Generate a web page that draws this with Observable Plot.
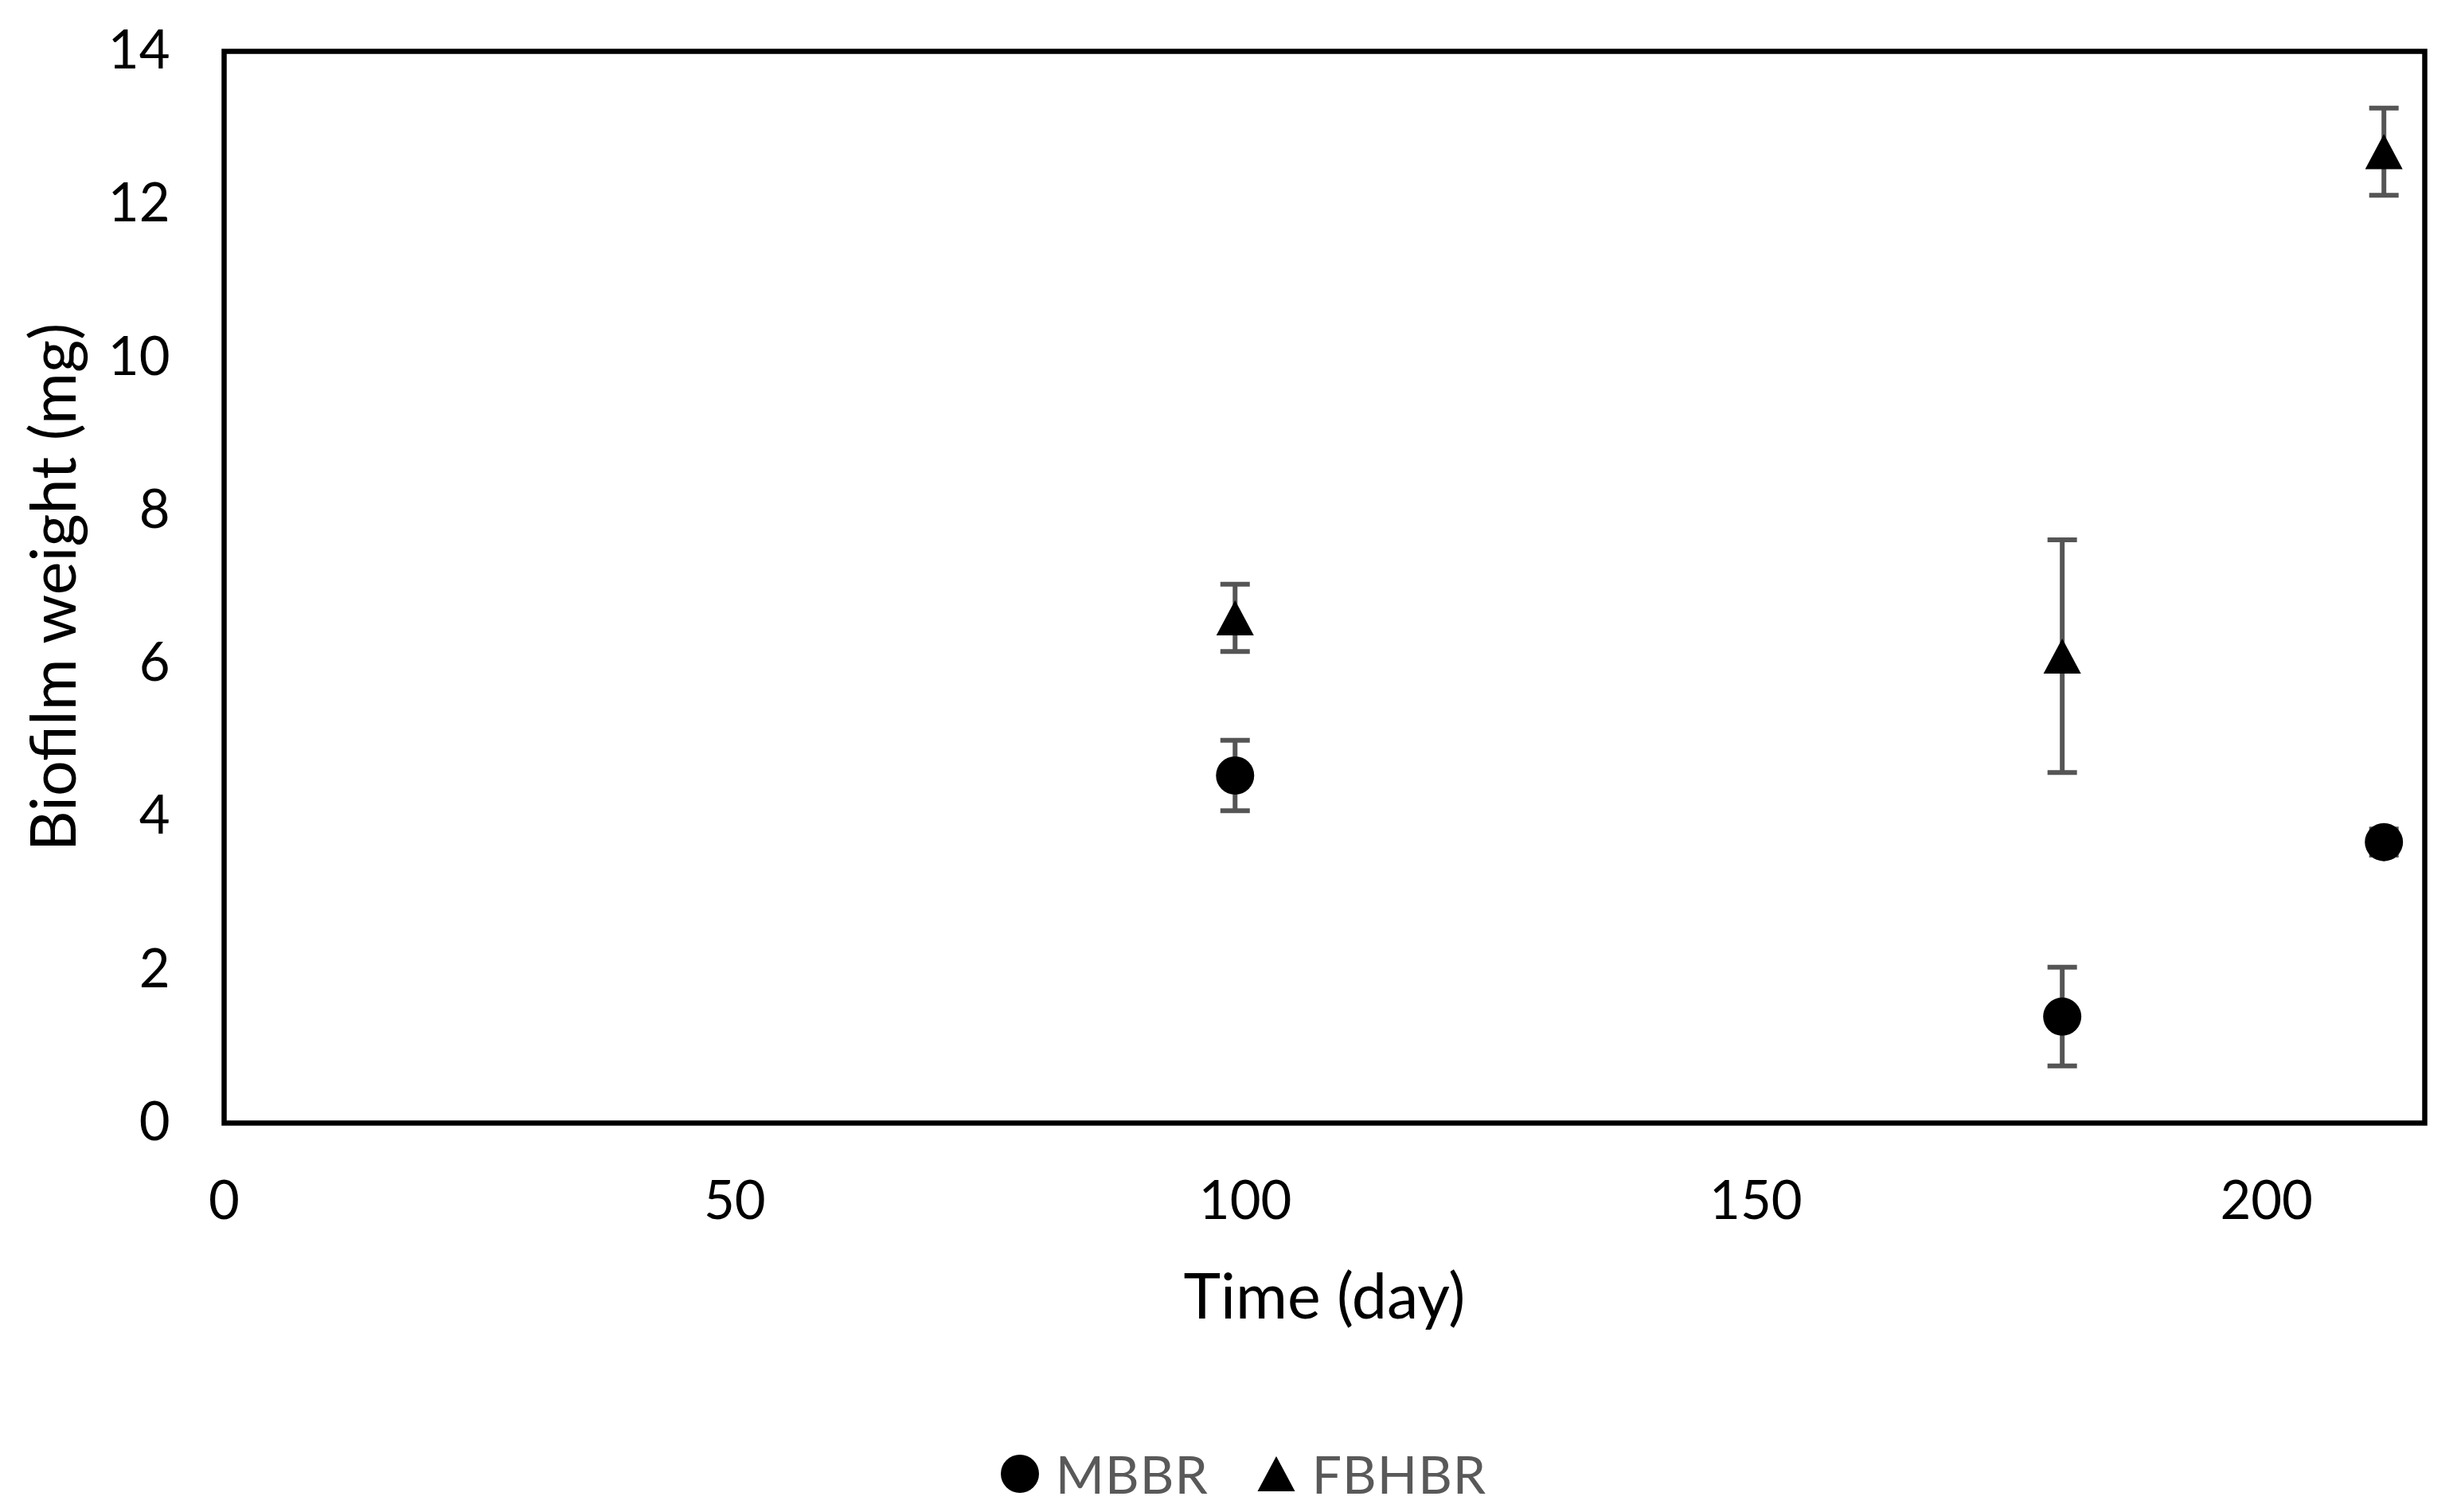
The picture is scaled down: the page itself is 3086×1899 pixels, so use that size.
<!DOCTYPE html>
<html>
<head>
<meta charset="utf-8">
<script src="https://cdn.jsdelivr.net/npm/d3@7"></script>
<script src="https://cdn.jsdelivr.net/npm/@observablehq/plot@0.6"></script>
<style>
  html, body { margin: 0; padding: 0; background: white; }
  #chart { width: 3086px; }
  #legend {
    width: 3086px; height: 109px; box-sizing: border-box; padding-top: 12px; padding-left: 37px;
    display: flex; justify-content: center; align-items: center;
    font-family: Lato, sans-serif; font-size: 66px; color: #595959;
  }
  #legend .item { display: flex; align-items: center; }
  #legend .item svg { margin-right: 20px; }
  #legend .item span { letter-spacing: 1px; }
  #legend .item + .item { margin-left: 60px; }
</style>
</head>
<body>
<div id="chart"></div>
<div id="legend"></div>
<script>
// ---- data ----
const days = [99, 180, 211.5];
const seriesNames = ["MBBR", "FBHBR"];
const mbbrMean = [4.54, 1.39, 3.67];
const mbbrErr = [0.46, 0.645, 0.17];
const fbhbrMean = [6.6, 6.1, 12.69];
const fbhbrErr = [0.44, 1.52, 0.57];
const xTicks = [0, 50, 100, 150, 200];
const yTicks = [0, 2, 4, 6, 8, 10, 12, 14];
const xLabel = "Time (day)";
const yLabel = "Biofilm weight (mg)";

const rows = [];
days.forEach((d, i) => {
  rows.push({series: "MBBR", day: d, mean: mbbrMean[i], lo: mbbrMean[i] - mbbrErr[i], hi: mbbrMean[i] + mbbrErr[i]});
  rows.push({series: "FBHBR", day: d, mean: fbhbrMean[i], lo: fbhbrMean[i] - fbhbrErr[i], hi: fbhbrMean[i] + fbhbrErr[i]});
});

// custom symbols
const capSymbol = {
  draw(ctx, size) {
    const r = Math.sqrt(size / Math.PI);
    ctx.moveTo(-r, 0); ctx.lineTo(r, 0);
  }
};
const triSymbol = {
  draw(ctx, size) {
    const r = Math.sqrt(size / Math.PI);
    const w = r * 0.98, h = r * 0.92;
    ctx.moveTo(0, -h); ctx.lineTo(w, h); ctx.lineTo(-w, h); ctx.closePath();
  }
};

const errColor = "#555555";
const caps = rows.flatMap(d => [{day: d.day, v: d.lo}, {day: d.day, v: d.hi}]);

const chart = Plot.plot({
  width: 3086,
  height: 1790,
  marginTop: 64,
  marginLeft: 281,
  marginRight: 41,
  marginBottom: 380,
  style: {fontFamily: "Lato, sans-serif", fontSize: "67px", color: "black", background: "white"},
  x: {domain: [0, 215.5]},
  y: {domain: [0, 14]},
  marks: [
    Plot.axisY({ticks: yTicks, tickSize: 0, tickPadding: 68, label: null, fontSize: 67}),
    Plot.axisX({ticks: xTicks, tickSize: 0, tickPadding: 73, label: null, fontSize: 67}),
    Plot.text([xLabel], {frameAnchor: "bottom", dy: 220, lineAnchor: "middle", fontSize: 79, fill: "black"}),
    Plot.text([yLabel], {frameAnchor: "left", dx: -212, rotate: -90, lineAnchor: "middle", textAnchor: "middle", fontSize: 79, fill: "black"}),
    Plot.ruleX(rows, {x: "day", y1: "lo", y2: "hi", stroke: errColor, strokeWidth: 6}),
    Plot.dot(caps, {x: "day", y: "v", symbol: capSymbol, r: 18.5, stroke: errColor, strokeWidth: 6, fill: "none"}),
    Plot.dot(rows.filter(d => d.series === "MBBR"), {x: "day", y: "mean", symbol: "circle", r: 24, fill: "black", stroke: "none"}),
    Plot.dot(rows.filter(d => d.series === "FBHBR"), {x: "day", y: "mean", symbol: triSymbol, r: 24, fill: "black", stroke: "none"}),
    Plot.frame({stroke: "black", strokeWidth: 6.5})
  ]
});
document.getElementById("chart").appendChild(chart);

// legend
const legend = document.getElementById("legend");
const shapes = {
  MBBR: '<svg width="50" height="50" viewBox="-25 -25 50 50"><circle r="24" fill="black"/></svg>',
  FBHBR: '<svg width="50" height="50" viewBox="-25 -25 50 50"><path d="M0,-22L23.5,22L-23.5,22Z" fill="black"/></svg>'
};
seriesNames.forEach(name => {
  const item = document.createElement("div");
  item.className = "item";
  item.innerHTML = shapes[name] + "<span>" + name + "</span>";
  legend.appendChild(item);
});
</script>
</body>
</html>
